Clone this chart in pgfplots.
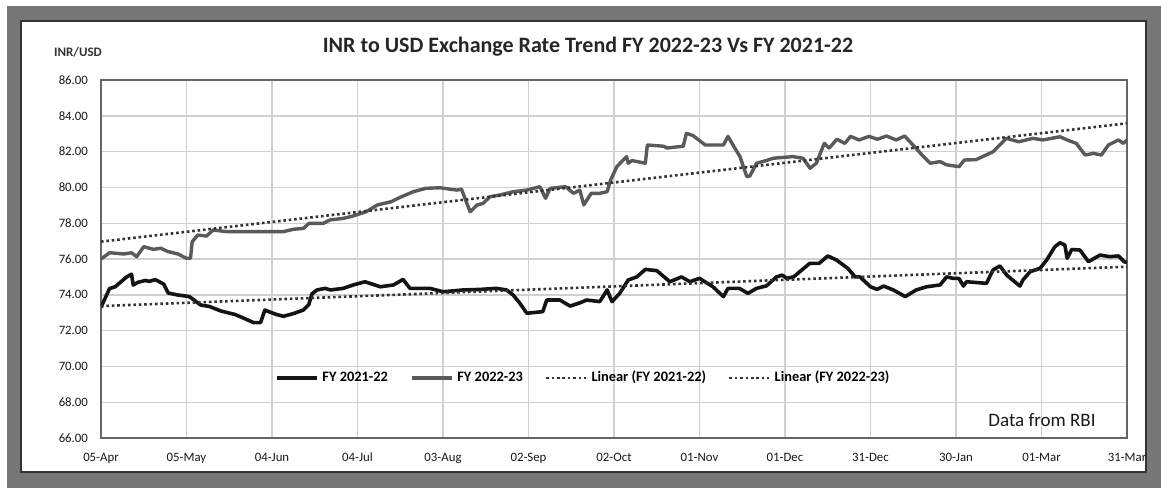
\documentclass[border=0pt]{standalone}
\usepackage{fontspec}
\setmainfont{Carlito}
\usepackage{pgfplots}
\pgfplotsset{compat=1.18}
\definecolor{frame}{HTML}{777777}
\definecolor{gridc}{HTML}{D0D0D0}
\definecolor{gline}{HTML}{5A5A5A}
\definecolor{tline}{HTML}{333333}

\pgfplotstableread{
d v
0 73.3
3 74.35
5 74.45
9 75.0
10.7 75.15
11.3 74.55
13 74.7
15.6 74.8
17 74.75
19 74.85
22 74.6
23.6 74.1
26.6 74.0
31 73.9
35 73.43
38 73.35
42 73.1
44.5 73.0
47 72.9
50 72.7
53.5 72.45
56 72.45
57.5 73.15
59 73.05
61.6 72.9
64 72.8
67.5 72.95
71 73.15
72.9 73.45
74 74.05
75.8 74.27
78.6 74.36
80.5 74.27
85 74.36
88.5 74.55
92.6 74.73
98 74.45
102.6 74.55
106 74.86
108.4 74.36
115.4 74.36
120 74.17
127 74.27
133 74.3
138.8 74.36
142.3 74.27
144.6 73.99
147 73.52
149.4 72.97
155 73.06
156.4 73.71
161 73.71
164.6 73.37
168 73.55
170.4 73.71
175 73.62
177.6 74.27
179.3 73.62
182 74.08
185 74.83
188 75.0
191 75.42
195 75.35
199.6 74.73
203.7 75.0
206.6 74.73
210 74.92
214.7 74.45
218.4 73.9
220 74.36
224 74.36
227 74.08
230 74.36
233.5 74.5
237 75.0
239 75.1
240.6 74.92
243 75.0
248.7 75.76
252 75.76
255 76.17
258 75.95
262 75.48
264.6 75.0
266.3 75.0
270 74.45
272.3 74.3
274.6 74.49
278 74.27
282.2 73.9
286 74.27
289.7 74.45
294.4 74.55
296.7 75.0
299 74.92
301 74.92
302.6 74.49
303.7 74.73
310.7 74.64
313 75.39
315.4 75.61
317.8 75.1
322.4 74.49
323.5 74.83
326 75.29
329.5 75.48
331.8 75.94
334.7 76.69
336.5 76.91
338.2 76.78
339 76.04
340.6 76.53
343.5 76.5
346.5 75.85
350.5 76.22
354 76.13
357 76.17
359 75.85
360 75.8
}\fyone

\pgfplotstableread{
d v
0 76.0
3 76.35
8 76.28
10.7 76.35
12.5 76.13
15 76.69
18.3 76.54
21 76.6
23.4 76.42
27 76.28
30 76.04
31.4 76.04
32 76.97
34 77.34
37 77.28
39.4 77.62
44 77.53
49 77.53
58 77.53
64 77.53
67.5 77.66
71 77.71
73 77.99
78 77.99
80.3 78.18
85 78.27
88.4 78.4
93 78.64
97 79.02
101.8 79.2
105 79.45
109.6 79.76
114 79.95
119 79.98
124.8 79.85
126.5 79.9
127.7 79.39
129.5 78.64
132 79.02
134 79.1
136.5 79.48
140 79.58
144.7 79.76
149.4 79.85
154 80.04
156 79.39
157.6 79.95
163 80.04
165.8 79.67
168 79.85
169.4 79.02
172 79.67
175 79.67
177.6 79.76
178.8 80.41
181 81.16
184.4 81.72
185 81.35
186.3 81.5
191 81.35
191.7 82.37
197.4 82.3
198.6 82.2
204.3 82.3
205.4 83.02
207.7 82.9
212 82.37
218.4 82.37
220 82.85
222 82.3
224.2 81.72
226.6 80.6
227.7 80.64
230 81.35
233.5 81.5
235.9 81.63
242.8 81.72
246.3 81.63
248.8 81.07
251 81.35
252.6 81.99
253.8 82.46
255.5 82.2
258.2 82.69
261 82.46
263 82.85
266 82.65
269.5 82.85
272.4 82.69
275.6 82.87
279 82.65
282 82.87
286 82.18
288.6 81.72
291 81.35
294.4 81.44
296.7 81.26
301.1 81.16
302.9 81.53
307 81.55
313 81.99
317.7 82.74
322 82.55
327 82.74
330.5 82.65
336.5 82.83
339 82.65
342.2 82.46
345.3 81.81
348.2 81.9
351 81.81
353.5 82.37
357 82.65
358.7 82.46
360 82.65
}\fytwo

\begin{document}
\begin{tikzpicture}
\path[use as bounding box] (0pt,0pt) rectangle (580.5pt,244pt);
\fill[frame] (3.5pt,0pt) rectangle (580.5pt,241pt);
\filldraw[draw=black!80, fill=white, line width=1.3pt] (10.5pt,8pt) rectangle (573pt,233.5pt);

\begin{axis}[
  at={(50.5pt,25pt)}, anchor=south west,
  width=513pt, height=179pt, scale only axis,
  xmin=0, xmax=360, ymin=66, ymax=86,
  xtick={0,30,...,360},
  xticklabels={05-Apr,05-May,04-Jun,04-Jul,03-Aug,02-Sep,02-Oct,01-Nov,01-Dec,31-Dec,30-Jan,01-Mar,31-Mar},
  ytick={66,68,...,86},
  /pgf/number format/fixed,
  /pgf/number format/fixed zerofill,
  /pgf/number format/precision=2,
  /pgf/number format/assume math mode=true,
  tick label style={font=\fontsize{6.4}{7}\selectfont, text=black!90},
  xticklabel style={yshift=-4pt},
  yticklabel style={xshift=-3pt},
  major tick length=0pt,
  grid=major,
  major grid style={gridc, line width=0.7pt},
  x axis line style={gridc, line width=0.7pt},
  y axis line style={gray!80!black, line width=1.1pt},
  legend columns=4,
  legend style={at={(axis cs:169.5,69.35)}, anchor=center, draw=none, fill=none,
    font=\fontsize{7.2}{8}\selectfont\bfseries,
    /tikz/every even column/.append style={column sep=9pt}},
  legend image code/.code={\draw[#1] (0pt,0pt) -- (20pt,0pt);},
]
\addplot[black!92, line width=1.8pt, line join=round] table[x=d,y=v] {\fyone};
\addlegendentry{FY 2021-22}
\addplot[gline, line width=1.7pt, line join=round] table[x=d,y=v] {\fytwo};
\addlegendentry{FY 2022-23}
\addplot[tline, line width=1.3pt, dash pattern=on 1.3pt off 1.4pt] coordinates {(0,73.37) (360,75.57)};
\addlegendentry{Linear (FY 2021-22)}
\addplot[tline, line width=1.3pt, dash pattern=on 1.3pt off 1.4pt] coordinates {(0,76.97) (360,83.58)};
\addlegendentry{Linear (FY 2022-23)}
\end{axis}

\node[font=\fontsize{11}{13}\selectfont\bfseries, text=black!85] at (294pt,220.5pt) {INR to USD Exchange Rate Trend FY 2022-23 Vs FY 2021-22};
\node[font=\fontsize{6.5}{8}\selectfont\bfseries, text=black!80] at (39pt,218pt) {INR/USD};
\node[font=\fontsize{9.5}{11}\selectfont, text=black!90] at (521pt,34pt) {Data from RBI};
\end{tikzpicture}
\end{document}
